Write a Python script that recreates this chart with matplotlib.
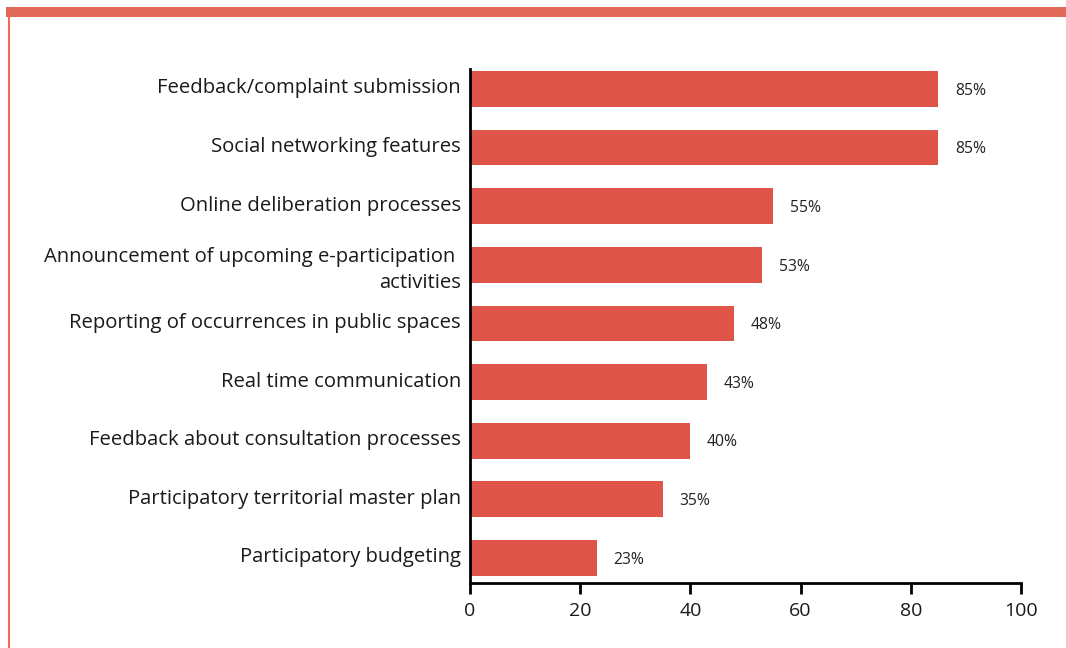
import matplotlib
matplotlib.use("Agg")
import matplotlib.pyplot as plt
import matplotlib.transforms as mtransforms
from matplotlib.patches import Rectangle
from matplotlib.lines import Line2D

categories = [
    "Feedback/complaint submission",
    "Social networking features",
    "Online deliberation processes",
    "Announcement of upcoming e-participation \nactivities",
    "Reporting of occurrences in public spaces",
    "Real time communication",
    "Feedback about consultation processes",
    "Participatory territorial master plan",
    "Participatory budgeting",
]
values = [85, 85, 55, 53, 48, 43, 40, 35, 23]
xticks = [0, 20, 40, 60, 80, 100]

plt.rcParams['font.family'] = ['Open Sans', 'DejaVu Sans']

fig = plt.figure(figsize=(10.66, 6.48), dpi=100)
ax = fig.add_axes([470/1066, 1 - 583/648, (1021-470)/1066, (583-69)/648])

n = len(categories)
ypos = list(range(n - 1, -1, -1))
bar_color = "#e0554a"
ax.barh(ypos, values, height=0.61, color=bar_color, zorder=2)

for y, v in zip(ypos, values):
    ax.text(v + 3, y - 0.03, f"{v}%", va="center", ha="left", fontsize=11.3, color="#222222")

ax.set_xlim(0, 100)
ax.set_ylim(-0.427, n - 1 + 0.34)
ax.set_yticks(ypos)
ax.set_yticklabels(categories, fontsize=14.6, color="#1a1a1a", linespacing=1.4)
ax.tick_params(axis="y", length=0, pad=6.5)
for lbl in ax.get_yticklabels():
    dy = 0 if "\n" in lbl.get_text() else 3
    lbl.set_transform(lbl.get_transform() +
                      mtransforms.ScaledTranslation(0, dy/100, fig.dpi_scale_trans))
ax.set_xticks(xticks)
ax.set_xticklabels([str(t) for t in xticks], fontsize=14, color="#1a1a1a")
ax.tick_params(axis="x", length=8, width=2, direction="out", pad=6)

for s in ["top", "right"]:
    ax.spines[s].set_visible(False)
for s in ["left", "bottom"]:
    ax.spines[s].set_linewidth(2)
    ax.spines[s].set_color("black")

# decorative frame: top band and left line
fig.patches.append(Rectangle((6/1066, 1 - 17/648), 1 - 6/1066, 10/648,
                             transform=fig.transFigure, facecolor="#e36a5a",
                             edgecolor="none"))
fig.lines.append(Line2D([8.5/1066, 8.5/1066], [0, 1 - 17/648],
                        transform=fig.transFigure, color="#ef6a5b", linewidth=1.5))

fig.savefig("out.png", dpi=100)
